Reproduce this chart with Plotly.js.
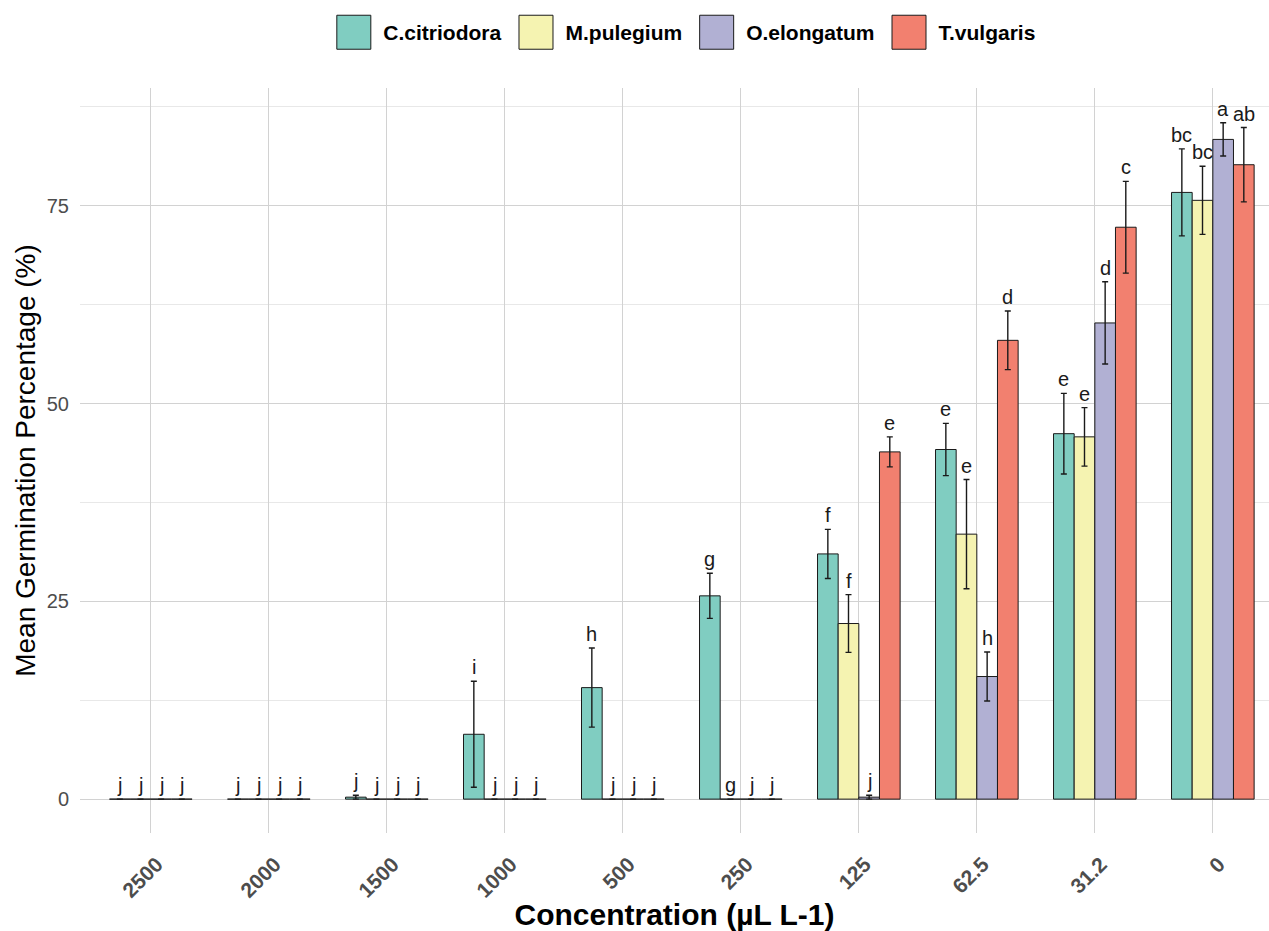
<!DOCTYPE html>
<html>
<head>
<meta charset="utf-8">
<script src="https://cdn.plot.ly/plotly-3.0.1.min.js"></script>
<style>
  html, body { margin: 0; padding: 0; background: #ffffff; }
  #chart { width: 1269px; height: 931px; }
</style>
</head>
<body>
<div id="chart"></div>
<script>
// Concentration levels (µL L-1), highest first
const concentrations = ['2500', '2000', '1500', '1000', '500', '250', '125', '62.5', '31.2', '0'];

const speciesNames = ['C.citriodora', 'M.pulegium', 'O.elongatum', 'T.vulgaris'];

// Mean germination percentage per concentration
const citriodoraMean = [0, 0, 0.25, 8.2, 14.1, 25.7, 31.0, 44.2, 46.2, 76.7];
const pulegiumMean   = [0, 0, 0, 0, 0, 0, 22.2, 33.5, 45.8, 75.7];
const elongatumMean  = [0, 0, 0, 0, 0, 0, 0.25, 15.5, 60.2, 83.4];
const vulgarisMean   = [0, 0, 0, 0, 0, 0, 43.9, 58.0, 72.3, 80.2];

// Standard errors
const citriodoraSE = [0, 0, 0.25, 6.7, 5.0, 2.85, 3.1, 3.3, 5.1, 5.5];
const pulegiumSE   = [0, 0, 0, 0, 0, 0, 3.65, 6.9, 3.7, 4.3];
const elongatumSE  = [0, 0, 0, 0, 0, 0, 0.25, 3.1, 5.2, 2.1];
const vulgarisSE   = [0, 0, 0, 0, 0, 0, 1.9, 3.7, 5.8, 4.7];

// Significance letters (mean separation)
const citriodoraLetters = ['j', 'j', 'j', 'i', 'h', 'g', 'f', 'e', 'e', 'bc'];
const pulegiumLetters   = ['j', 'j', 'j', 'j', 'j', 'g', 'f', 'e', 'e', 'bc'];
const elongatumLetters  = ['j', 'j', 'j', 'j', 'j', 'j', 'j', 'h', 'd', 'a'];
const vulgarisLetters   = ['j', 'j', 'j', 'j', 'j', 'j', 'e', 'd', 'c', 'ab'];

const means   = [citriodoraMean, pulegiumMean, elongatumMean, vulgarisMean];
const errors  = [citriodoraSE, pulegiumSE, elongatumSE, vulgarisSE];
const letters = [citriodoraLetters, pulegiumLetters, elongatumLetters, vulgarisLetters];
const fillColors = ['#80CDC1', '#F5F3B1', '#B1B0D3', '#F2806F'];

const FONT = '"Liberation Sans", Arial, sans-serif';
const GROUP_WIDTH = 0.7;               // dodge width of one concentration group
const BAR_WIDTH = GROUP_WIDTH / speciesNames.length;

const traces = speciesNames.map((name, k) => ({
  type: 'bar',
  name: name,
  x: concentrations,
  y: means[k],
  marker: { color: fillColors[k], line: { color: '#1a1a1a', width: 1 } },
  error_y: { type: 'data', array: errors[k], visible: true, color: '#1a1a1a', thickness: 1.4, width: 3 },
  hoverinfo: 'x+y+name'
}));

// Letter labels sit just above each error bar
const annotations = [];
speciesNames.forEach((name, k) => {
  concentrations.forEach((c, i) => {
    annotations.push({
      xref: 'x', yref: 'y',
      x: i + (k - (speciesNames.length - 1) / 2) * BAR_WIDTH,
      y: means[k][i] + errors[k][i],
      text: letters[k][i],
      showarrow: false,
      yanchor: 'bottom',
      yshift: 1,
      font: { family: FONT, size: 20, color: '#1a1a1a' }
    });
  });
});

const layout = {
  width: 1269,
  height: 931,
  paper_bgcolor: '#ffffff',
  plot_bgcolor: '#ffffff',
  margin: { l: 80, r: 0, t: 88, b: 98 },
  font: { family: FONT },
  barmode: 'group',
  bargap: 1 - GROUP_WIDTH,
  bargroupgap: 0,
  showlegend: true,
  legend: {
    orientation: 'h',
    xref: 'paper', x: 0.507, xanchor: 'center',
    yref: 'container', y: 0.965, yanchor: 'middle',
    itemwidth: 49,
    font: { family: FONT, size: 21, color: '#000000', weight: 'bold' },
    traceorder: 'normal',
    itemclick: false, itemdoubleclick: false
  },
  xaxis: {
    type: 'category',
    categoryorder: 'array',
    categoryarray: concentrations,
    range: [-0.6, 9.476],
    showgrid: true,
    gridcolor: '#D2D2D2',
    gridwidth: 1,
    zeroline: false,
    showline: false,
    ticks: '',
    tickangle: -45,
    ticklabelstandoff: 14,
    ticklabelshift: 6,
    tickfont: { family: FONT, size: 21, color: '#4D4D4D', weight: 'bold' },
    title: {
      text: 'Concentration (µL L-1)',
      font: { family: FONT, size: 30, color: '#000000', weight: 'bold' },
      standoff: 0
    }
  },
  yaxis: {
    range: [-4.28, 89.9],
    tick0: 0,
    dtick: 25,
    showgrid: true,
    gridcolor: '#D2D2D2',
    gridwidth: 1,
    minor: { dtick: 12.5, showgrid: true, gridcolor: '#E8E8E8', gridwidth: 1 },
    zeroline: false,
    showline: false,
    ticks: '',
    ticklabelstandoff: 10,
    tickfont: { family: FONT, size: 20, color: '#4D4D4D' },
    title: {
      text: 'Mean Germination Percentage (%)',
      font: { family: FONT, size: 28, color: '#000000' },
      standoff: 2
    }
  },
  annotations: annotations
};

// Larger square keys in the legend
function enlargeLegendKeys() {
  document.querySelectorAll('#chart .legend .legendpoints path').forEach(p => {
    p.setAttribute('d', 'M17,17H-17V-17H17Z');
  });
}

Plotly.newPlot('chart', traces, layout, { displayModeBar: false, staticPlot: true }).then(gd => {
  enlargeLegendKeys();
  setTimeout(enlargeLegendKeys, 0);
  gd.on('plotly_afterplot', enlargeLegendKeys);
});
</script>
</body>
</html>
